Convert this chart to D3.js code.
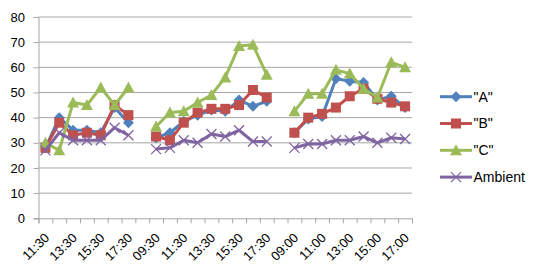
<!DOCTYPE html>
<html>
<head>
<meta charset="utf-8">
<script src="https://cdn.jsdelivr.net/npm/d3@7"></script>
<style>
  body { margin: 0; background: #fff; }
  svg { display: block; font-family: "Liberation Sans", Arial, sans-serif; }
</style>
</head>
<body>
<svg width="546" height="279"></svg>
<script>
var svg = d3.select('svg')

// categories ('' = gap row between days)
var times = ['11:30', '12:30', '13:30', '14:30', '15:30', '16:30', '17:30', '',
  '09:30', '10:30', '11:30', '12:30', '13:30', '14:30', '15:30', '16:30', '17:30', '',
  '09:00', '10:00', '11:00', '12:00', '13:00', '14:00', '15:00', '16:00', '17:00']

var seriesA = [28, 40, 35, 35, 34, 44, 38, null,
  32, 34, 38.5, 41, 43, 42.5, 47, 44.5, 46.5, null,
  34, 39.5, 40.5, 55.5, 54.5, 54, 47, 48.5, 44]
var seriesB = [28, 38, 33, 34, 33, 45, 41, null,
  32.5, 31, 38, 42, 43.5, 43.5, 45, 51, 48, null,
  34, 40, 41.5, 44, 48.5, 51.5, 47.5, 46, 44.5]
var seriesC = [30, 27, 46, 45, 52, 45, 52, null,
  36.5, 42, 42.5, 46, 49, 56, 68.5, 69, 57, null,
  42.5, 49.5, 49.5, 59, 57.5, 51.5, 48, 62, 60]
var ambient = [27, 34, 31, 31, 31, 36, 33, null,
  27.5, 28, 31, 30, 33.5, 32.5, 35, 30.5, 30.5, null,
  28, 29.5, 29.5, 31, 31, 32.5, 30, 32, 31.5]

var yTicks = [0, 10, 20, 30, 40, 50, 60, 70, 80]

var series = [
  { name: '"A"', values: seriesA, color: '#4f81bd', marker: 'diamond' },
  { name: '"B"', values: seriesB, color: '#c0504d', marker: 'square' },
  { name: '"C"', values: seriesC, color: '#9bbb59', marker: 'triangle' },
  { name: 'Ambient', values: ambient, color: '#8064a2', marker: 'x' }
]

var plotLeft = 38.5, plotRight = 412, plotTop = 17, plotBottom = 218.3

var x = d3.scaleBand()
  .domain(d3.range(times.length))
  .range([plotLeft, plotRight])
var xEdge = d3.scaleLinear()
  .domain([0, times.length])
  .range([plotLeft, plotRight])
var y = d3.scaleLinear()
  .domain([0, 80])
  .range([plotBottom, plotTop])

var cx = function (i) { return x(i) + x.bandwidth() / 2 }

// gridlines
svg.append('g')
  .selectAll('line')
  .data(yTicks.slice(1))
  .enter()
  .append('line')
  .attr('x1', plotLeft).attr('x2', plotRight)
  .attr('y1', function (d) { return y(d) }).attr('y2', function (d) { return y(d) })
  .style('stroke', '#a6a6a6')
  .style('stroke-width', 1)

// y axis
var yAxis = svg.append('g')
  .attr('transform', 'translate(' + plotLeft + ',0)')
  .call(d3.axisLeft(y).tickValues(yTicks).tickSize(5).tickPadding(8.5))
yAxis.select('.domain').style('stroke', '#a6a6a6')
yAxis.selectAll('.tick line').style('stroke', '#a6a6a6')
yAxis.selectAll('text').style('font-size', '13px').style('fill', '#000')
  .style('font-family', '"Liberation Sans", Arial, sans-serif')

// x axis (ticks between categories)
var xAxis = svg.append('g')
  .attr('transform', 'translate(0,' + plotBottom + ')')
  .call(d3.axisBottom(xEdge).tickValues(d3.range(times.length + 1)).tickSize(5).tickFormat(''))
xAxis.select('.domain').style('stroke', '#a6a6a6')
xAxis.selectAll('.tick line').style('stroke', '#a6a6a6')

svg.append('g')
  .selectAll('text')
  .data(d3.range(0, times.length, 2))
  .enter()
  .append('text')
  .attr('transform', function (i) { return 'translate(' + (cx(i) + 1.5) + ',' + (plotBottom + 17) + ') rotate(-45)' })
  .attr('text-anchor', 'end')
  .attr('dy', '0.35em')
  .style('font-size', '13px')
  .text(function (i) { return times[i] })

// lines
var line = d3.line()
  .defined(function (d) { return d != null })
  .x(function (d, i) { return cx(i) })
  .y(function (d) { return y(d) })

function marker (g, type, color) {
  if (type === 'diamond') {
    g.append('path').attr('d', 'M0,-5.5L5.5,0L0,5.5L-5.5,0Z').style('fill', color)
  } else if (type === 'square') {
    g.append('rect').attr('x', -5).attr('y', -5).attr('width', 10).attr('height', 10).style('fill', color)
  } else if (type === 'triangle') {
    g.append('path').attr('d', 'M0,-6L6,5L-6,5Z').style('fill', color)
  } else {
    g.append('path').attr('d', 'M-5,-5L5,5M-5,5L5,-5').style('stroke', color).style('stroke-width', 1.3)
  }
}

series.forEach(function (s) {
  var g = svg.append('g')
  g.append('path')
    .attr('d', line(s.values))
    .style('fill', 'none')
    .style('stroke', s.color)
    .style('stroke-width', 3)
    .style('stroke-linejoin', 'round')
  s.values.forEach(function (v, i) {
    if (v == null) return
    var m = g.append('g').attr('transform', 'translate(' + cx(i) + ',' + y(v) + ')')
    marker(m, s.marker, s.color)
  })
})

// legend
var legend = svg.append('g')
series.forEach(function (s, k) {
  var ly = 96.7 + k * 26.8
  legend.append('line')
    .attr('x1', 440).attr('x2', 472)
    .attr('y1', ly).attr('y2', ly)
    .style('stroke', s.color)
    .style('stroke-width', 3)
  var m = legend.append('g').attr('transform', 'translate(456,' + ly + ')')
  marker(m, s.marker, s.color)
  legend.append('text')
    .attr('x', 473.5).attr('y', ly)
    .attr('dy', '0.35em')
    .style('font-size', '14px')
    .text(s.name)
})
</script>
</body>
</html>
